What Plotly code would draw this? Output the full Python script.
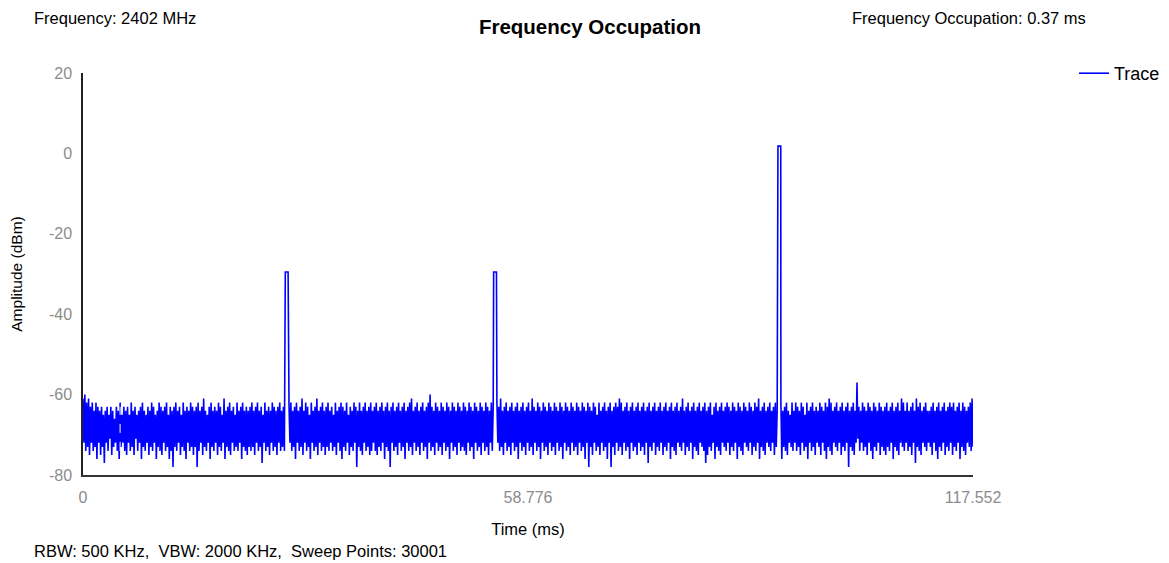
import plotly.graph_objects as go

# ---------------- data ----------------
sweep_ms = 117.552
x_tick_vals = [0, 58.776, 117.552]
x_tick_text = ["0", "58.776", "117.552"]
y_tick_vals = [20, 0, -20, -40, -60, -80]
y_tick_text = ["20", "0", "-20", "-40", "-60", "-80"]

# noise floor trace (dBm), evenly spread over the sweep
noise_dbm = [
    -61, -72, -60, -74, -62, -73, -61, -75, -63, -72, -62, -74, -64, -73, -62, -76, -63, -72, -64, -75, -63, -73, -65, -77,
    -64, -72, -63, -74, -65, -71, -63, -75, -64, -73, -66, -72, -63, -74, -64, -76, -62, -73, -65, -72, -63, -74, -64, -75,
    -63, -72, -65, -74, -62, -73, -64, -75, -63, -71, -65, -74, -64, -72, -63, -76, -62, -73, -64, -74, -65, -72, -63, -75,
    -64, -73, -62, -74, -63, -72, -65, -76, -64, -73, -62, -74, -63, -75, -64, -72, -63, -74, -62, -73, -65, -76, -63, -74,
    -64, -78, -63, -73, -62, -74, -64, -72, -63, -75, -65, -73, -62, -74, -64, -76, -63, -72, -64, -74, -62, -73, -63, -75,
    -64, -73, -63, -78, -62, -74, -64, -72, -63, -75, -61, -73, -64, -74, -65, -72, -63, -76, -62, -73, -64, -74, -63, -72,
    -64, -75, -62, -73, -63, -74, -65, -72, -61, -76, -64, -73, -63, -74, -62, -75, -64, -72, -63, -74, -65, -73, -62, -74,
    -64, -72, -63, -76, -62, -73, -64, -74, -63, -75, -64, -73, -63, -74, -62, -73, -64, -75, -63, -72, -62, -74, -64, -73,
    -63, -77, -65, -72, -62, -74, -64, -73, -63, -75, -64, -72, -62, -74, -63, -73, -64, -75, -63, -72, -62, -74, -64, -73,
    -63, -74, -62, -73, -64, -75, -63, -72, -62, -74, -64, -73, -63, -76, -62, -72, -64, -74, -63, -73, -61, -75, -64, -72,
    -62, -74, -63, -73, -65, -76, -62, -72, -64, -74, -63, -73, -61, -75, -64, -72, -63, -74, -62, -73, -64, -75, -63, -73,
    -62, -74, -64, -72, -63, -74, -65, -73, -62, -75, -64, -72, -63, -74, -62, -76, -63, -73, -64, -74, -62, -72, -65, -75,
    -63, -73, -64, -74, -62, -72, -63, -78, -64, -73, -62, -74, -64, -75, -63, -72, -62, -74, -64, -73, -63, -75, -62, -74,
    -64, -72, -63, -74, -62, -75, -64, -73, -63, -74, -62, -72, -64, -76, -63, -73, -62, -74, -64, -78, -63, -72, -62, -74,
    -64, -73, -63, -75, -62, -72, -64, -74, -63, -73, -62, -76, -64, -72, -63, -74, -62, -73, -61, -75, -64, -72, -63, -74,
    -62, -73, -64, -75, -63, -72, -62, -74, -64, -73, -63, -76, -62, -72, -60, -74, -63, -73, -64, -75, -62, -72, -63, -74,
    -64, -73, -62, -75, -63, -72, -64, -74, -62, -73, -63, -76, -64, -72, -62, -74, -63, -73, -64, -75, -62, -72, -63, -74,
    -64, -73, -62, -74, -63, -75, -64, -72, -62, -74, -63, -73, -64, -76, -62, -72, -63, -74, -64, -73, -62, -75, -63, -72,
    -64, -74, -62, -73, -63, -75, -64, -72, -62, -74, -63, -73, -64, -76, -62, -72, -63, -74, -61, -73, -64, -75, -63, -72,
    -62, -74, -64, -73, -63, -75, -62, -72, -64, -74, -63, -73, -62, -76, -64, -72, -63, -74, -62, -73, -64, -75, -63, -72,
    -62, -74, -64, -73, -61, -75, -63, -72, -64, -74, -62, -73, -63, -76, -64, -72, -62, -74, -63, -73, -64, -75, -62, -72,
    -63, -74, -64, -73, -62, -75, -63, -72, -64, -74, -62, -73, -63, -76, -64, -72, -62, -74, -63, -73, -64, -75, -62, -72,
    -63, -74, -64, -73, -62, -75, -63, -72, -64, -74, -62, -73, -63, -76, -64, -72, -62, -78, -63, -73, -64, -75, -62, -72,
    -63, -74, -65, -73, -62, -75, -64, -72, -63, -74, -62, -73, -64, -76, -63, -72, -62, -78, -64, -73, -63, -75, -62, -72,
    -63, -74, -61, -73, -62, -75, -64, -72, -63, -74, -62, -73, -64, -76, -63, -72, -62, -74, -64, -73, -63, -75, -62, -72,
    -64, -74, -63, -73, -62, -75, -64, -72, -63, -77, -62, -73, -64, -74, -63, -72, -62, -75, -64, -73, -63, -74, -62, -72,
    -64, -75, -63, -73, -62, -74, -64, -72, -63, -76, -62, -73, -64, -74, -63, -75, -62, -72, -64, -73, -63, -74, -61, -72,
    -64, -75, -63, -73, -62, -74, -64, -72, -63, -76, -62, -73, -64, -74, -63, -75, -62, -72, -64, -73, -63, -74, -62, -77,
    -64, -75, -63, -73, -62, -74, -65, -72, -63, -76, -62, -73, -64, -74, -63, -75, -62, -72, -64, -73, -63, -74, -62, -72,
    -63, -75, -64, -73, -62, -74, -63, -72, -64, -76, -62, -73, -63, -74, -64, -75, -62, -72, -63, -73, -64, -74, -62, -72,
    -63, -75, -64, -73, -62, -74, -63, -72, -61, -76, -64, -73, -63, -74, -62, -75, -64, -72, -63, -73, -62, -74, -64, -72,
    -63, -75, -62, -73, -64, -74, -63, -72, -62, -76, -64, -73, -63, -74, -62, -75, -64, -72, -65, -73, -62, -74, -64, -72,
    -62, -74, -63, -73, -64, -75, -62, -72, -63, -74, -65, -73, -62, -76, -64, -72, -63, -74, -62, -73, -64, -75, -63, -72,
    -64, -73, -62, -75, -63, -72, -64, -74, -62, -76, -63, -73, -61, -74, -62, -75, -64, -72, -63, -73, -62, -74, -64, -72,
    -63, -75, -62, -73, -64, -74, -63, -72, -62, -78, -64, -73, -63, -74, -62, -75, -64, -72, -57, -71, -63, -74, -64, -72,
    -62, -74, -63, -73, -64, -75, -62, -72, -63, -74, -64, -76, -62, -73, -63, -74, -64, -72, -62, -75, -63, -73, -64, -74,
    -63, -75, -62, -73, -64, -74, -63, -72, -62, -76, -64, -73, -63, -74, -62, -75, -64, -72, -61, -73, -62, -74, -64, -72,
    -62, -74, -64, -73, -63, -75, -62, -72, -64, -77, -61, -73, -63, -74, -62, -75, -64, -72, -63, -73, -62, -74, -64, -72,
    -64, -73, -63, -75, -62, -72, -64, -74, -63, -76, -62, -73, -64, -74, -63, -72, -62, -75, -64, -73, -63, -74, -62, -72,
    -63, -75, -62, -73, -64, -74, -63, -72, -62, -76, -64, -73, -62, -74, -63, -75, -64, -72, -63, -73, -62, -74, -61, -73,
]

# bursts (occupied intervals)
burst_start_ms = [26.72, 54.24, 91.79]
burst_width_ms = 0.37
burst_level_dbm = [-29.5, -29.5, 1.8]

marker_time_ms = 4.9

# ---------------- build trace ----------------
n = len(noise_dbm)
dt = sweep_ms / (n - 1)
pts = []
for i, v in enumerate(noise_dbm):
    t = i * dt
    inside = any(s <= t <= s + burst_width_ms for s in burst_start_ms)
    if not inside:
        pts.append((t, v))
for s, lv in zip(burst_start_ms, burst_level_dbm):
    pts.append((s, lv))
    pts.append((s + burst_width_ms, lv))
pts.sort(key=lambda p: p[0])
tx = [p[0] for p in pts]
ty = [p[1] for p in pts]

# page offset (the page body has an 8px margin)
OFF = 8
W, H = 1169 - OFF, 563 - OFF
# plot area in page pixels: x 83..973, y 73..475
L = 83 - OFF
T = 73 - OFF
R = W - (973 - OFF)
B = H - (475 - OFF)
pw, ph = W - L - R, H - T - B


def px(xpage):
    return (xpage - OFF - L) / pw


def py(ypage):
    return (H - B - (ypage - OFF)) / ph


FONT = "Liberation Sans, Arial, sans-serif"

fig = go.Figure()
fig.add_trace(go.Scatter(
    x=tx, y=ty, mode="lines", name="Trace",
    line=dict(color="#0000FF", width=1.6, simplify=False),
))

fig.add_shape(type="line", x0=marker_time_ms, x1=marker_time_ms, y0=-74, y1=-63,
              xref="x", yref="y", line=dict(color="white", width=1, dash="dash"))

fig.update_layout(
    width=W, height=H,
    margin=dict(l=L, r=R, t=T, b=B, autoexpand=False),
    paper_bgcolor="white", plot_bgcolor="white",
    font=dict(family=FONT, size=16, color="#000000"),
    title=dict(text="<b>Frequency Occupation</b>", x=(590 - OFF) / W, xanchor="center",
               y=1 - (27 - OFF) / H, yanchor="middle", font=dict(size=20.5, family=FONT)),
    showlegend=True,
    legend=dict(x=px(1074), y=py(55), xanchor="left", yanchor="top",
                font=dict(size=18, family=FONT), bgcolor="rgba(0,0,0,0)",
                itemwidth=30),
    xaxis=dict(range=[0, sweep_ms], tickvals=x_tick_vals, ticktext=x_tick_text,
               showgrid=False, zeroline=False, showline=True, linecolor="#333333",
               linewidth=2, ticks="", tickfont=dict(size=16, color="#8c8c8c"),
               ticklabelstandoff=7, automargin=False,
               title=dict(text="Time (ms)", font=dict(size=16.5), standoff=18)),
    yaxis=dict(range=[-80, 20], tickvals=y_tick_vals, ticktext=y_tick_text,
               showgrid=False, zeroline=False, showline=True, linecolor="#222222",
               linewidth=1.5, ticks="", tickfont=dict(size=16, color="#8c8c8c"),
               ticklabelstandoff=6, automargin=False,
               title=dict(text="Amplitude (dBm)", font=dict(size=15.5), standoff=22)),
    annotations=[
        dict(text="Frequency: 2402 MHz", x=px(32), y=py(18), xref="paper", yref="paper",
             xanchor="left", yanchor="middle", showarrow=False, font=dict(size=16.5)),
        dict(text="Frequency Occupation: 0.37 ms", x=px(850), y=py(18), xref="paper", yref="paper",
             xanchor="left", yanchor="middle", showarrow=False, font=dict(size=16.5)),
        dict(text="RBW: 500 KHz,  VBW: 2000 KHz,  Sweep Points: 30001", x=px(32), y=py(551),
             xref="paper", yref="paper", xanchor="left", yanchor="middle", showarrow=False,
             font=dict(size=16.5)),
    ],
)

fig.write_html("out.html")
